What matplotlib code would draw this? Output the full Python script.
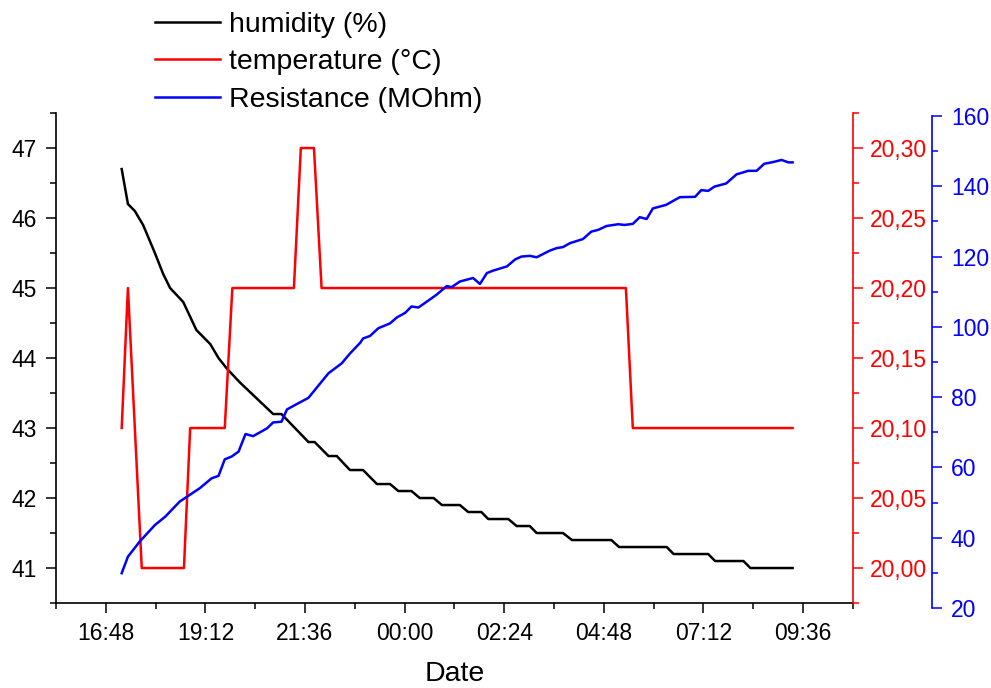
import matplotlib
matplotlib.use('Agg')
import matplotlib.pyplot as plt
import pandas as pd
from matplotlib.ticker import MultipleLocator, FuncFormatter
import matplotlib.dates as mdates

plt.rcParams['font.family'] = ['Liberation Sans', 'DejaVu Sans']

# measurement times (evening of day 1 -> morning of day 2)
hum_times = ['17:11', '17:20', '17:30', '17:42', '17:59', '18:11', '18:21', '18:40', '18:59',
             '19:19', '19:31', '19:43', '20:02', '20:50', '21:02', '21:41', '21:50', '22:10',
             '22:22', '22:41', '23:00', '23:20', '23:39', '23:51', '00:10', '00:22', '00:42',
             '00:54', '01:20', '01:32', '01:51', '02:01', '02:30', '02:42', '03:01', '03:11',
             '03:49', '04:02', '04:59', '05:10', '06:19', '06:29', '07:19', '07:29', '08:10',
             '08:20', '09:21']
hum_values = [46.7, 46.2, 46.1, 45.9, 45.5, 45.2, 45.0, 44.8, 44.4,
              44.2, 44.0, 43.85, 43.65, 43.2, 43.2, 42.8, 42.8, 42.6,
              42.6, 42.4, 42.4, 42.2, 42.2, 42.1, 42.1, 42.0, 42.0,
              41.9, 41.9, 41.8, 41.8, 41.7, 41.7, 41.6, 41.6, 41.5,
              41.5, 41.4, 41.4, 41.3, 41.3, 41.2, 41.2, 41.1, 41.1,
              41.0, 41.0]

temp_times = ['17:11', '17:20', '17:40', '18:41', '18:50', '19:40', '19:51', '21:20',
              '21:30', '21:49', '22:00', '05:20', '05:30', '09:21']
temp_values = [20.10, 20.20, 20.00, 20.00, 20.10, 20.10, 20.20, 20.20,
               20.30, 20.30, 20.20, 20.20, 20.10, 20.10]

res_times = ['17:11', '17:20', '17:37', '17:59', '18:14', '18:35', '19:04', '19:21', '19:31',
             '19:40', '19:50', '20:00', '20:10', '20:21', '20:41', '20:50', '21:02', '21:10',
             '21:22', '21:41', '22:10', '22:29', '22:41', '22:56', '23:00', '23:10', '23:22',
             '23:39', '23:49', '00:01', '00:10', '00:20', '00:46', '01:01', '01:08', '01:20',
             '01:39', '01:49', '01:59', '02:08', '02:28', '02:40', '02:49', '03:01', '03:11',
             '03:30', '03:40', '03:49', '03:59', '04:18', '04:30', '04:40', '04:52', '05:09',
             '05:18', '05:30', '05:40', '05:50', '05:59', '06:18', '06:38', '07:00', '07:09',
             '07:19', '07:28', '07:45', '08:00', '08:17', '08:29', '08:40', '08:53', '09:05',
             '09:15', '09:21']
res_values = [29.9, 34.6, 38.9, 43.6, 46.0, 50.3, 54.1, 56.9, 57.6,
              62.3, 63.1, 64.5, 69.5, 68.9, 71.1, 72.8, 73.0, 76.5,
              77.8, 79.8, 86.8, 89.6, 92.4, 95.5, 96.7, 97.4, 99.6,
              101.0, 102.7, 104.0, 105.8, 105.5, 109.1, 111.6, 111.3, 112.9,
              113.9, 112.2, 115.3, 116.0, 117.2, 119.2, 120.0, 120.2, 119.8,
              121.7, 122.4, 122.7, 123.8, 125.0, 127.1, 127.6, 128.7, 129.2,
              129.0, 129.3, 131.2, 130.7, 133.7, 134.7, 136.9, 137.0, 138.9,
              138.7, 139.9, 140.8, 143.4, 144.4, 144.4, 146.4, 146.9, 147.5,
              146.8, 146.8]


def to_dt(times):
    out = []
    for t in times:
        day = '2020-01-01' if int(t[:2]) >= 12 else '2020-01-02'
        out.append(pd.Timestamp(f'{day} {t}'))
    return out


fs_tick = 16.5
fs_label = 20.5
lw = 1.8

fig = plt.figure(figsize=(9.91, 6.88), dpi=100)
ax = fig.add_axes([0.0565, 0.1235, 0.804, 0.7122])
ax_t = ax.twinx()
ax_r = fig.add_axes([0.0565, 0.1163, 0.804, 0.7151])

l1, = ax.plot(to_dt(hum_times), hum_values, color='black', lw=lw, label='humidity (%)')
l2, = ax_t.plot(to_dt(temp_times), temp_values, color='red', lw=lw, label='temperature (°C)')
l3, = ax_r.plot(to_dt(res_times), res_values, color='blue', lw=lw, label='Resistance (MOhm)')

xmin = pd.Timestamp('2020-01-01 15:36')
xmax = pd.Timestamp('2020-01-02 10:48')
for a in (ax, ax_t, ax_r):
    a.set_xlim(xmin, xmax)

ax.set_xticks(pd.date_range('2020-01-01 16:48', periods=8, freq='144min'))
ax.set_xticks(pd.date_range(xmin, xmax, freq='72min'), minor=True)
ax.xaxis.set_major_formatter(mdates.DateFormatter('%H:%M'))
ax.set_xlabel('Date', fontsize=fs_label, labelpad=12)

# left axis: humidity
ax.set_ylim(40.5, 47.5)
ax.yaxis.set_major_locator(MultipleLocator(1))
ax.yaxis.set_minor_locator(MultipleLocator(0.5))
ax.spines['top'].set_visible(False)
ax.spines['right'].set_visible(False)
for s in ('left', 'bottom'):
    ax.spines[s].set_linewidth(1.2)
ax.tick_params(which='major', direction='out', length=7.5, width=1.1, labelsize=fs_tick, pad=6)
ax.tick_params(which='minor', direction='out', length=4, width=1.1)

# red axis: temperature
ax_t.set_ylim(19.975, 20.325)
ax_t.yaxis.set_major_locator(MultipleLocator(0.05))
ax_t.yaxis.set_minor_locator(MultipleLocator(0.025))
ax_t.yaxis.set_major_formatter(FuncFormatter(lambda v, p: f'{v:.2f}'.replace('.', ',')))
for s in ('top', 'left', 'bottom'):
    ax_t.spines[s].set_visible(False)
ax_t.spines['right'].set_color('red')
ax_t.spines['right'].set_linewidth(1.2)
ax_t.tick_params(axis='y', which='major', colors='red', direction='out', length=7.5, width=1.1,
                 labelsize=fs_tick, pad=5)
ax_t.tick_params(axis='y', which='minor', colors='red', direction='out', length=4, width=1.1)

# blue axis: resistance
ax_r.patch.set_visible(False)
ax_r.set_ylim(20, 160)
ax_r.yaxis.set_major_locator(MultipleLocator(20))
ax_r.yaxis.set_minor_locator(MultipleLocator(10))
ax_r.xaxis.set_visible(False)
for s in ('top', 'left', 'bottom'):
    ax_r.spines[s].set_visible(False)
ax_r.spines['right'].set_position(('axes', 1.0995))
ax_r.spines['right'].set_color('blue')
ax_r.spines['right'].set_linewidth(1.2)
ax_r.yaxis.tick_right()
ax_r.tick_params(axis='y', which='major', colors='blue', direction='out', length=7.5, width=1.1,
                 labelsize=fs_tick, pad=6)
ax_r.tick_params(axis='y', which='minor', colors='blue', direction='out', length=4, width=1.1)

fig.legend(handles=[l1, l2, l3], loc='upper left', bbox_to_anchor=(155 / 991, 1 - 12 / 688),
           frameon=False, fontsize=fs_label, handlelength=2.3, handletextpad=0.3,
           labelspacing=0.4, borderpad=0, borderaxespad=0)

fig.savefig('out.png', dpi=100)
